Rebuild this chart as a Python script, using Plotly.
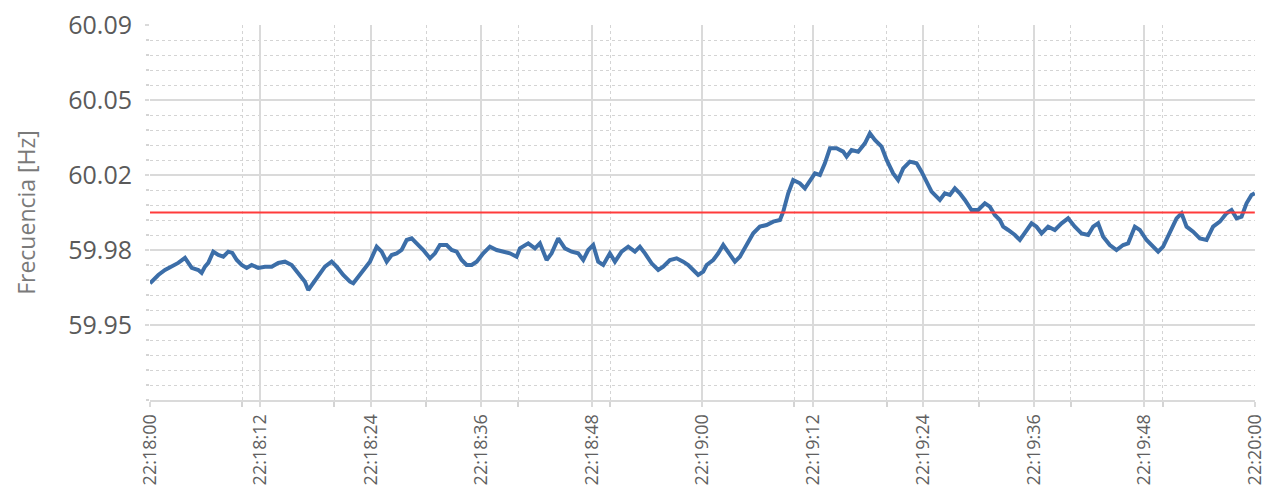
import pandas as pd
import plotly.graph_objects as go

# Seconds after 22:18:00
seconds = [0.0, 0.18, 0.90, 1.63, 2.36, 3.07, 3.80, 4.16, 4.53, 5.25, 5.61, 5.97, 6.33, 6.87, 7.42, 7.96,
           8.50, 8.94, 9.42, 9.96, 10.50, 11.04, 11.76, 12.49, 13.22, 13.93, 14.66, 15.39, 16.10, 16.83,
           17.19, 17.56, 18.28, 19.00, 19.73, 20.28, 20.99, 21.72, 22.08, 22.62, 23.16, 23.89, 24.62,
           25.16, 25.71, 26.25, 26.79, 27.33, 27.88, 28.42, 28.96, 29.68, 30.41, 30.95, 31.49, 32.22,
           32.76, 33.31, 33.85, 34.39, 34.94, 35.48, 36.20, 36.92, 37.65, 38.37, 39.09, 39.82, 40.18,
           41.08, 41.81, 42.35, 43.08, 43.62, 44.34, 45.07, 45.80, 46.51, 47.06, 47.60, 48.14, 48.68,
           49.23, 49.95, 50.50, 51.22, 51.94, 52.67, 53.21, 53.76, 54.48, 55.20, 55.74, 56.47, 57.20,
           57.91, 58.46, 59.00, 59.54, 60.09, 60.46, 61.17, 61.72, 62.26, 62.80, 63.53, 64.07, 64.80,
           65.52, 66.24, 66.97, 67.69, 68.42, 68.78, 69.32, 69.86, 70.59, 71.13, 71.68, 72.22, 72.76,
           73.30, 73.85, 74.57, 75.29, 75.66, 76.20, 76.92, 77.65, 78.19, 78.73, 79.46, 80.01, 80.72,
           81.26, 81.81, 82.53, 83.26, 83.80, 84.35, 84.89, 85.43, 85.79, 86.33, 86.88, 87.42, 87.96,
           88.51, 89.23, 89.95, 90.68, 91.22, 91.76, 92.31, 92.67, 93.21, 93.94, 94.48, 95.02, 95.75,
           96.29, 96.84, 97.55, 98.28, 99.01, 99.72, 100.45, 101.18, 101.90, 102.44, 102.98, 103.53,
           104.25, 104.98, 105.70, 106.24, 106.97, 107.51, 108.24, 108.96, 109.50, 110.04, 110.77,
           111.50, 112.04, 112.59, 113.30, 114.03, 114.76, 115.47, 116.20, 116.93, 117.47, 118.02,
           118.56, 119.10, 119.64, 120.00]

frequency = [59.9660, 59.9668, 59.9700, 59.9724, 59.9740, 59.9758, 59.9782, 59.9758, 59.9734, 59.9724,
             59.9710, 59.9740, 59.9758, 59.9812, 59.9796, 59.9788, 59.9812, 59.9806, 59.9772, 59.9748,
             59.9734, 59.9748, 59.9734, 59.9740, 59.9740, 59.9758, 59.9764, 59.9748, 59.9710, 59.9668,
             59.9628, 59.9652, 59.9700, 59.9740, 59.9764, 59.9740, 59.9700, 59.9668, 59.9660, 59.9692,
             59.9724, 59.9764, 59.9836, 59.9812, 59.9764, 59.9796, 59.9804, 59.9820, 59.9868, 59.9876,
             59.9852, 59.9820, 59.9780, 59.9804, 59.9844, 59.9844, 59.9820, 59.9812, 59.9772, 59.9748,
             59.9748, 59.9764, 59.9804, 59.9836, 59.9820, 59.9812, 59.9804, 59.9788, 59.9828, 59.9852,
             59.9828, 59.9852, 59.9772, 59.9804, 59.9876, 59.9828, 59.9812, 59.9804, 59.9772, 59.9820,
             59.9844, 59.9764, 59.9748, 59.9804, 59.9764, 59.9812, 59.9836, 59.9812, 59.9836, 59.9804,
             59.9756, 59.9724, 59.9740, 59.9772, 59.9780, 59.9764, 59.9748, 59.9724, 59.9700, 59.9716,
             59.9748, 59.9772, 59.9804, 59.9844, 59.9812, 59.9764, 59.9788, 59.9844, 59.9900, 59.9932,
             59.9940, 59.9956, 59.9964, 60.0004, 60.0092, 60.0156, 60.0140, 60.0116, 60.0156, 60.0188,
             60.0180, 60.0236, 60.0308, 60.0308, 60.0292, 60.0268, 60.0300, 60.0292, 60.0332, 60.0380,
             60.0348, 60.0316, 60.0252, 60.0188, 60.0156, 60.0212, 60.0244, 60.0236, 60.0196, 60.0148,
             60.0100, 60.0076, 60.0060, 60.0092, 60.0084, 60.0116, 60.0092, 60.0060, 60.0012, 60.0012,
             60.0044, 60.0028, 59.9988, 59.9964, 59.9932, 59.9916, 59.9892, 59.9868, 59.9900, 59.9948,
             59.9932, 59.9900, 59.9932, 59.9916, 59.9948, 59.9972, 59.9932, 59.9900, 59.9892, 59.9932,
             59.9948, 59.9884, 59.9844, 59.9820, 59.9844, 59.9852, 59.9932, 59.9916, 59.9868, 59.9836,
             59.9812, 59.9836, 59.9900, 59.9972, 59.9996, 59.9932, 59.9908, 59.9876, 59.9868, 59.9932,
             59.9956, 59.9996, 60.0012, 59.9972, 59.9980, 60.0044, 60.0084, 60.0092]

nominal_hz = 60.0
y_tick_values = [59.946, 59.982, 60.018, 60.054, 60.09]
y_range = [59.91, 60.09]
start_time = "2024-01-01 22:18:00"
end_time = "2024-01-01 22:20:00"

t0 = pd.Timestamp(start_time)
times = [t0 + pd.Timedelta(seconds=s) for s in seconds]

fig = go.Figure()
fig.add_trace(go.Scatter(
    x=times, y=frequency, mode="lines",
    line=dict(color="#3c6ea8", width=4),
    showlegend=False,
))
fig.add_trace(go.Scatter(
    x=[pd.Timestamp(start_time), pd.Timestamp(end_time)], y=[nominal_hz, nominal_hz],
    mode="lines", line=dict(color="#ff3b3b", width=2), showlegend=False,
))

grid_major = "#dadada"
grid_minor = "#d4d4d4"

fig.update_layout(
    width=1265, height=488,
    margin=dict(l=150, r=10, t=25, b=88),
    paper_bgcolor="white", plot_bgcolor="white",
    font=dict(family="Open Sans", color="#595959"),
)
fig.update_xaxes(
    type="date", automargin=False,
    range=["2024-01-01 22:18:00", "2024-01-01 22:20:00.02"],
    tick0=start_time, dtick=12000,
    tickformat="%H:%M:%S",
    tickangle=-90,
    ticklabeloverflow="allow",
    tickfont=dict(size=18, color="#606060"),
    showgrid=True, gridcolor=grid_major, gridwidth=2,
    ticks="outside", ticklen=5, tickcolor=grid_major, tickwidth=2,
    showline=True, linecolor=grid_major, linewidth=2,
    zeroline=False,
    minor=dict(tick0=start_time, dtick=10000, showgrid=True, gridcolor=grid_minor,
               griddash="dot", gridwidth=1.2, ticks="outside", ticklen=5, tickcolor=grid_minor),
)
fig.update_yaxes(
    automargin=False,
    range=y_range,
    tickmode="array", tickvals=y_tick_values, tickformat=".2f",
    tickfont=dict(size=25, color="#5a5a5a"),
    ticklabelstandoff=8,
    showgrid=True, gridcolor=grid_major, gridwidth=2,
    ticks="outside", ticklen=4, tickcolor=grid_major, tickwidth=2,
    showline=False, zeroline=False,
    title=dict(text="Frecuencia [Hz]", font=dict(size=23, color="#7a7a7a"), standoff=26),
    minor=dict(tick0=59.91, dtick=0.0072, showgrid=True, gridcolor=grid_minor,
               griddash="dot", gridwidth=1.2, ticks="outside", ticklen=3, tickcolor=grid_minor),
)

fig.write_html(
    "out.html",
    config={"displayModeBar": False},
    post_script="document.body.style.margin='0';document.body.style.overflow='hidden';",
)
